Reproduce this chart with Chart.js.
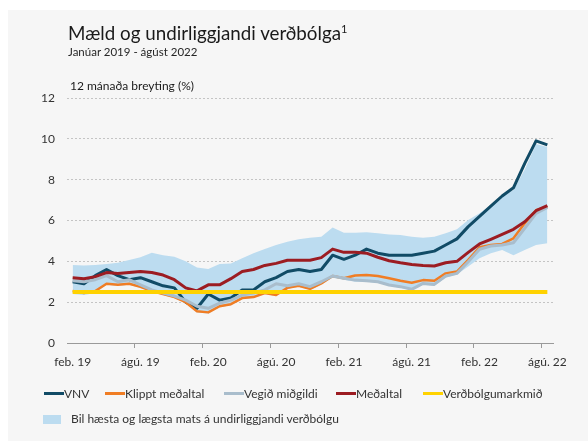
<!DOCTYPE html>
<html>
<head>
<meta charset="utf-8">
<script src="https://cdn.jsdelivr.net/npm/chart.js@4.4.1/dist/chart.umd.min.js"></script>
<style>
  body { margin: 0; background: #fff; font-family: Lato, "Noto Sans", sans-serif; }
  #wrap { position: relative; width: 588px; height: 441px; overflow: hidden; }
  #panel { position: absolute; left: 8px; top: 10px; right: 0; bottom: 0; background: #f6f6f6; }
  canvas { position: absolute; left: 0; top: 0; }
  .txt { position: absolute; white-space: nowrap; color: #262626; line-height: 1; }
  #title { left: 68px; top: 23px; font-size: 18.8px; color: #1a1a1a; }
  #title sup { font-size: 11px; vertical-align: 7px; }
  #sub { left: 68px; top: 46px; font-size: 11.5px; }
  #ytitle { left: 70px; top: 80px; font-size: 12px; color: #1a1a1a; }
  .leg { position: absolute; font-size: 12px; color: #333; line-height: 1; white-space: nowrap; }
  .leg i { display: inline-block; width: 20px; height: 3px; vertical-align: 3px; }
  .leg b { display: inline-block; width: 18px; height: 9px; vertical-align: -1px; margin-right: 10px; }
</style>
</head>
<body>
<div id="wrap">
  <div id="panel"></div>
  <canvas id="chart" width="588" height="441"></canvas>
  <div class="txt" id="title">Mæld og undirliggjandi verðbólga<sup>1</sup></div>
  <div class="txt" id="sub">Janúar 2019 - ágúst 2022</div>
  <div class="txt" id="ytitle">12 mánaða breyting (%)</div>
  <div id="legend"></div>
</div>
<script>
// mánuðir, feb. 2019 - ágú. 2022
const categories = [
  'feb. 19', 'mar. 19', 'apr. 19', 'maí 19', 'jún. 19', 'júl. 19', 'ágú. 19', 'sep. 19', 'okt. 19', 'nóv. 19', 'des. 19',
  'jan. 20', 'feb. 20', 'mar. 20', 'apr. 20', 'maí 20', 'jún. 20', 'júl. 20', 'ágú. 20', 'sep. 20', 'okt. 20', 'nóv. 20', 'des. 20',
  'jan. 21', 'feb. 21', 'mar. 21', 'apr. 21', 'maí 21', 'jún. 21', 'júl. 21', 'ágú. 21', 'sep. 21', 'okt. 21', 'nóv. 21', 'des. 21',
  'jan. 22', 'feb. 22', 'mar. 22', 'apr. 22', 'maí 22', 'jún. 22', 'júl. 22', 'ágú. 22'
];
const tickLabels = ['feb. 19', 'ágú. 19', 'feb. 20', 'ágú. 20', 'feb. 21', 'ágú. 21', 'feb. 22', 'ágú. 22'];
const yTicks = [0, 2, 4, 6, 8, 10, 12];

const vnv = [3.0, 2.9, 3.3, 3.6, 3.3, 3.1, 3.2, 3.0, 2.8, 2.7, 2.0, 1.7, 2.4, 2.1, 2.2, 2.6, 2.6, 3.0, 3.2, 3.5, 3.6, 3.5,
  3.6, 4.3, 4.1, 4.3, 4.6, 4.4, 4.3, 4.3, 4.3, 4.4, 4.5, 4.8, 5.1, 5.7, 6.2, 6.7, 7.2, 7.6, 8.8, 9.9, 9.7];
const klippt = [2.55, 2.45, 2.55, 2.9, 2.85, 2.9, 2.75, 2.55, 2.4, 2.25, 2.0, 1.55, 1.5, 1.8, 1.9, 2.2, 2.25, 2.45, 2.35, 2.7, 2.8, 2.65,
  2.92, 3.28, 3.17, 3.31, 3.33, 3.28, 3.17, 3.05, 2.95, 3.08, 3.05, 3.41, 3.5, 4.07, 4.69, 4.8, 4.85, 5.13, 5.86, 6.5, 6.68];
const vegid = [3.05, 3.0, 3.1, 3.3, 3.0, 3.1, 2.85, 2.6, 2.45, 2.3, 2.1, 1.8, 1.7, 1.95, 2.1, 2.35, 2.45, 2.6, 2.9, 2.8, 2.9, 2.76,
  3.0, 3.28, 3.17, 3.08, 3.05, 3.0, 2.84, 2.76, 2.63, 2.92, 2.87, 3.28, 3.41, 3.98, 4.59, 4.75, 4.8, 4.91, 5.62, 6.35, 6.64];
const medaltal = [3.2, 3.15, 3.25, 3.45, 3.4, 3.45, 3.5, 3.45, 3.33, 3.1, 2.7, 2.55, 2.85, 2.85, 3.15, 3.5, 3.6, 3.8, 3.9, 4.05, 4.05, 4.05,
  4.18, 4.6, 4.44, 4.44, 4.4, 4.2, 4.03, 3.93, 3.85, 3.8, 3.77, 3.93, 4.0, 4.44, 4.85, 5.08, 5.32, 5.57, 5.94, 6.48, 6.73];
const markmid = categories.map(() => 2.5);
// bil hæsta og lægsta mats
const bilLow = [2.4, 2.35, 2.45, 2.85, 2.8, 2.85, 2.7, 2.5, 2.35, 2.2, 1.95, 1.5, 1.45, 1.75, 1.85, 2.15, 2.2, 2.4, 2.3, 2.65, 2.75, 2.6,
  2.85, 3.2, 3.1, 3.0, 3.0, 2.95, 2.8, 2.7, 2.6, 2.85, 2.8, 3.2, 3.35, 3.75, 4.15, 4.4, 4.55, 4.3, 4.55, 4.8, 4.88];
const bilHigh = [3.82, 3.8, 3.82, 3.87, 3.93, 4.07, 4.2, 4.42, 4.3, 4.23, 4.0, 3.7, 3.62, 3.87, 3.9, 4.15, 4.4, 4.6, 4.8, 4.96, 5.08, 5.16,
  5.2, 5.66, 5.4, 5.4, 5.42, 5.37, 5.32, 5.29, 5.2, 5.16, 5.2, 5.37, 5.57, 6.02, 6.35, 6.76, 7.17, 7.5, 8.5, 9.75, 9.6];

const colors = {
  vnv: '#114b66',
  klippt: '#f07d24',
  vegid: '#a9bdcc',
  medaltal: '#9c1c22',
  markmid: '#ffd200',
  bil: '#bcdcf0'
};

function line(label, data, color, width, order) {
  return {
    label: label, data: data, borderColor: color, borderWidth: width,
    pointRadius: 0, tension: 0, fill: false, order: order,
    borderJoinStyle: 'round', borderCapStyle: 'butt'
  };
}

function buildLegend() {
  const items = [
    { text: 'VNV', color: colors.vnv, x: 44 },
    { text: 'Klippt meðaltal', color: colors.klippt, x: 105 },
    { text: 'Vegið miðgildi', color: colors.vegid, x: 224 },
    { text: 'Meðaltal', color: colors.medaltal, x: 336 },
    { text: 'Verðbólgumarkmið', color: colors.markmid, x: 423 }
  ];
  const box = document.getElementById('legend');
  items.forEach(it => {
    const d = document.createElement('div');
    d.className = 'leg';
    d.style.left = it.x + 'px';
    d.style.top = '388px';
    d.innerHTML = '<i style="background:' + it.color + '"></i>' + it.text;
    box.appendChild(d);
  });
  const d = document.createElement('div');
  d.className = 'leg';
  d.style.left = '43px';
  d.style.top = '413px';
  d.innerHTML = '<b style="background:' + colors.bil + '"></b>Bil hæsta og lægsta mats á undirliggjandi verðbólgu';
  box.appendChild(d);
}

function initChart() {
  const ctx = document.getElementById('chart').getContext('2d');
  new Chart(ctx, {
    type: 'line',
    data: {
      labels: categories,
      datasets: [
        line('Verðbólgumarkmið', markmid, colors.markmid, 4, 1),
        line('Meðaltal', medaltal, colors.medaltal, 3, 2),
        line('Vegið miðgildi', vegid, colors.vegid, 3, 3),
        line('Klippt meðaltal', klippt, colors.klippt, 2.5, 4),
        line('VNV', vnv, colors.vnv, 3, 5),
        { label: 'lágt', data: bilLow, borderWidth: 0, pointRadius: 0, fill: false, order: 11 },
        { label: 'Bil', data: bilHigh, borderWidth: 0, pointRadius: 0, order: 10,
          backgroundColor: colors.bil, fill: '-1' }
      ]
    },
    options: {
      responsive: false,
      animation: false,
      devicePixelRatio: 1,
      layout: { padding: { left: 0, top: 98, right: 35, bottom: 68 } },
      plugins: { legend: { display: false }, tooltip: { enabled: false } },
      scales: {
        x: {
          type: 'category',
          offset: true,
          afterFit: s => { s.height = 30; },
          grid: {
            offset: true,
            drawOnChartArea: false,
            tickLength: 5,
            tickColor: c => (c.index > 0 && c.index % 6 === 0) ? '#9a9a9a' : 'rgba(0,0,0,0)'
          },
          border: { color: '#9a9a9a', width: 1 },
          ticks: {
            autoSkip: false,
            maxRotation: 0,
            padding: 7,
            color: '#333',
            font: { family: 'Lato', size: 12 },
            callback: function (v, i) {
              const lab = categories[i];
              return tickLabels.includes(lab) ? lab : '';
            }
          }
        },
        y: {
          min: 0,
          max: 12,
          afterFit: s => { s.width = 67; },
          afterBuildTicks: s => { s.ticks = yTicks.map(v => ({ value: v })); },
          grid: { color: '#c4c4c4', drawTicks: false, lineWidth: 1 },
          border: { display: false, dash: [2, 2] },
          ticks: { padding: 12, color: '#333', font: { family: 'Lato', size: 12 } }
        }
      }
    }
  });
}

window.onload = () => {
  buildLegend();
  initChart();
};
</script>
</body>
</html>
